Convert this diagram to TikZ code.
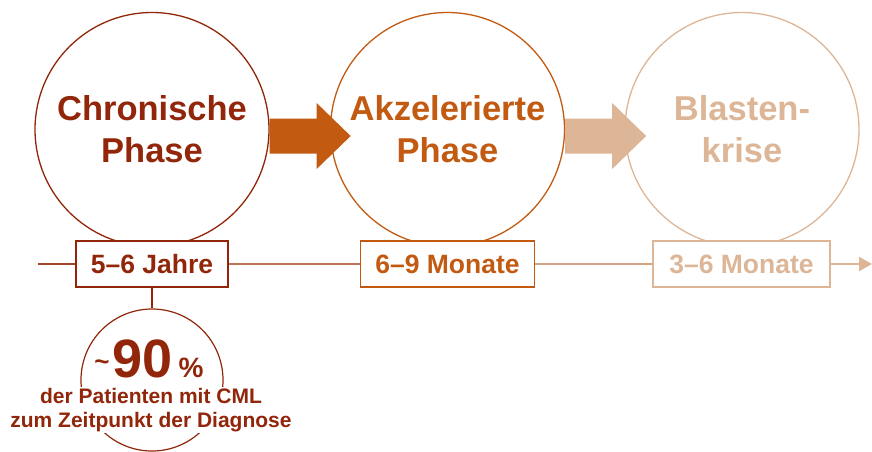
\documentclass[tikz,border=0pt]{standalone}
\usepackage{fontspec}
\setmainfont{Liberation Sans}
\usetikzlibrary{positioning, arrows.meta, calc}
\definecolor{chronred}{RGB}{146,38,10}
\definecolor{accorange}{RGB}{194,90,18}
\definecolor{blasttan}{RGB}{220,182,150}

\begin{document}
\begin{tikzpicture}[
    x=1pt, y=-1pt,
    phase/.style={circle, draw, line width=1.3pt, minimum size=234pt, inner sep=0pt, align=center, font=\fontsize{34.5}{42}\selectfont\bfseries},
    period/.style={rectangle, draw, line width=1.4pt, fill=white, minimum height=46pt, inner xsep=15pt, font=\fontsize{26.5}{30}\selectfont\bfseries},
    timeline/.style={line width=2.4pt},
    note/.style={fill=white, inner sep=1pt, align=center, text=chronred, font=\fontsize{21}{24}\selectfont\bfseries}
]
\useasboundingbox (0,0) rectangle (872,451);

% Phases
\node[phase, draw=chronred, text=chronred] (chronic) at (152,129.5) {Chronische\\Phase};
\node[phase, draw=accorange, text=accorange] (accel) at (447.5,129.5) {Akzelerierte\\Phase};
\node[phase, draw=blasttan, text=blasttan] (blast) at (742,129.5) {Blasten-\\krise};

% Arrows between phases
\fill[accorange] (chronic.east) ++(0,-11) -- ++(47,0) -- ++(0,-15.5) -- ++(34,33) -- ++(-34,33) -- ++(0,-15.5) -- ++(-47,0) -- cycle;
\fill[blasttan] (accel.east) ++(0,-11) -- ++(47,0) -- ++(0,-15.5) -- ++(34,33) -- ++(-34,33) -- ++(0,-15.5) -- ++(-47,0) -- cycle;

% Time line
\coordinate (tstart) at (38,264);
\coordinate (tend) at (872,264);
\node[period, draw=chronred, text=chronred] (years) at (152,264) {5–6 Jahre};
\node[period, draw=accorange, text=accorange] (accmonths) at (447.5,264) {6–9 Monate};
\node[period, draw=blasttan, text=blasttan, minimum width=177pt] (blastmonths) at (741.5,264) {3–6 Monate};

\draw[timeline, chronred!78!blasttan] (tstart) -- (years);
\draw[timeline, chronred!45!blasttan] (years) -- (accmonths);
\draw[timeline, blasttan!88!chronred] (accmonths) -- (blastmonths);
\draw[timeline, blasttan, -{Triangle[length=13pt,width=14pt]}] (blastmonths) -- (tend);

% Share at diagnosis
\node[circle, draw=chronred, line width=1.2pt, minimum size=142pt, inner sep=0pt] (share) at (152,380) {};
\draw[line width=1.3pt, chronred] (years) -- (share);
\node[anchor=base, text=chronred, inner sep=0pt] (percent) at (149,377)
  {\bfseries{\fontsize{26}{26}\selectfont\raisebox{7pt}{\textasciitilde}}\kern3pt{\fontsize{54}{54}\selectfont 90}\kern6pt{\fontsize{28}{28}\selectfont\%}};
\node[note] (sharetext) at (151,410) {der Patienten mit CML\\zum Zeitpunkt der Diagnose};

\end{tikzpicture}
\end{document}
